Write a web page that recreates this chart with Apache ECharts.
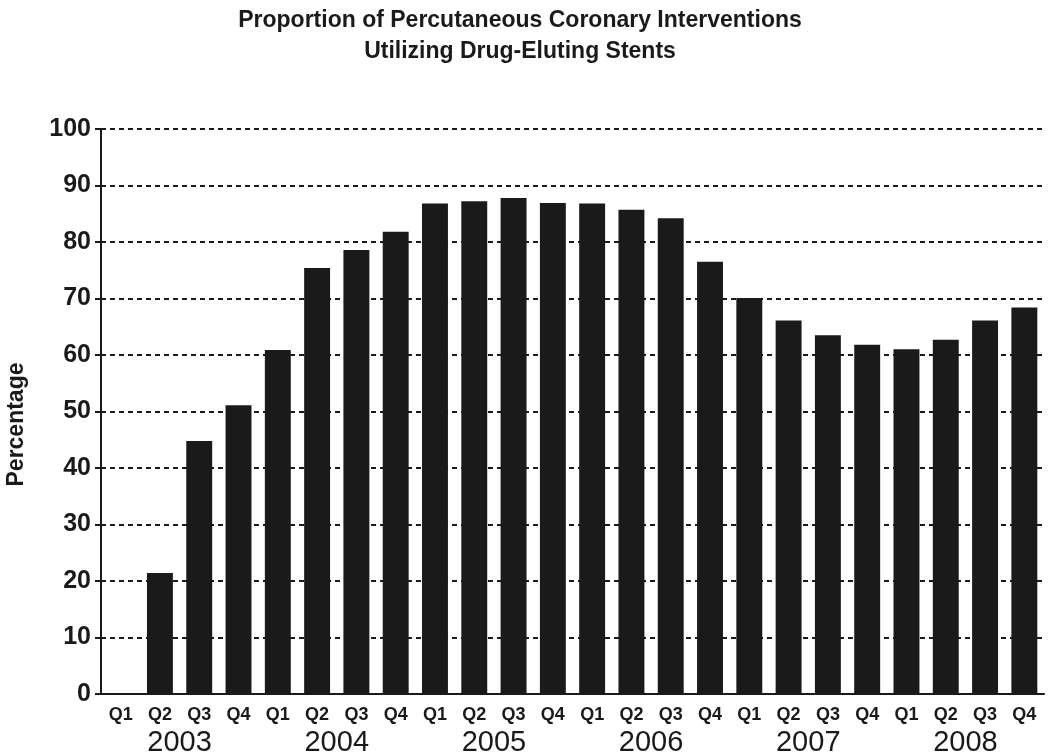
<!DOCTYPE html>
<html>
<head>
<meta charset="utf-8">
<script src="https://cdn.jsdelivr.net/npm/echarts@6/dist/echarts.min.js"></script>
<style>
  html, body { margin: 0; padding: 0; background: #fff; }
  #chart { width: 1050px; height: 753px; }
</style>
</head>
<body>
<div id="chart"></div>
<script>
// quarters and the year groups under them
const quarters = ['Q1', 'Q2', 'Q3', 'Q4', 'Q1', 'Q2', 'Q3', 'Q4', 'Q1', 'Q2', 'Q3', 'Q4',
                  'Q1', 'Q2', 'Q3', 'Q4', 'Q1', 'Q2', 'Q3', 'Q4', 'Q1', 'Q2', 'Q3', 'Q4'];
const years = ['2003', '2004', '2005', '2006', '2007', '2008'];
// percentage of PCIs using drug-eluting stents
const desPercent = [0, 21.4, 44.8, 51.1, 60.9, 75.4, 78.6, 81.8, 86.8, 87.2, 87.8, 86.9,
                    86.8, 85.7, 84.2, 76.5, 70.1, 66.1, 63.5, 61.8, 61.0, 62.7, 66.1, 68.4];
const yTicks = [0, 10, 20, 30, 40, 50, 60, 70, 80, 90, 100];

const font = 'Liberation Sans, Arial, Helvetica, sans-serif';

const chart = echarts.init(document.getElementById('chart'));
chart.setOption({
    animation: false,
    backgroundColor: '#fff',
    title: {
        text: 'Proportion of Percutaneous Coronary Interventions\nUtilizing Drug-Eluting Stents',
        left: 515,
        textAlign: 'center',
        top: 0,
        textStyle: { fontFamily: font, fontSize: 23, fontWeight: 'bold', color: '#1a1a1a', lineHeight: 31 }
    },
    grid: { left: 101, right: 6, top: 129, bottom: 59, outerBoundsMode: 'none' },
    xAxis: [{
        type: 'category',
        data: quarters,
        axisLine: { lineStyle: { color: '#1a1a1a', width: 2 } },
        axisTick: { alignWithLabel: true, length: 6, lineStyle: { color: '#1a1a1a', width: 2 } },
        axisLabel: { margin: 12, color: '#1a1a1a', fontFamily: font, fontSize: 18, fontWeight: 'bold', interval: 0 }
    }, {
        type: 'category',
        data: years,
        position: 'bottom',
        axisLine: { show: false },
        axisTick: { show: false },
        axisLabel: { margin: 34, color: '#1a1a1a', fontFamily: font, fontSize: 29, interval: 0 }
    }],
    yAxis: {
        type: 'value',
        min: yTicks[0],
        max: yTicks[yTicks.length - 1],
        interval: 10,
        name: 'Percentage',
        nameLocation: 'middle',
        nameGap: 73,
        nameTextStyle: { fontFamily: font, fontSize: 23, fontWeight: 'bold', color: '#1a1a1a', padding: [0, 26, 0, 0] },
        axisLine: { show: true, lineStyle: { color: '#1a1a1a', width: 2 } },
        axisTick: { show: true, length: 6, lineStyle: { color: '#1a1a1a', width: 2 } },
        axisLabel: { margin: 10, color: '#1a1a1a', fontFamily: font, fontSize: 25, fontWeight: 'bold' },
        splitLine: { lineStyle: { color: '#1a1a1a', width: 2, type: [5, 4] } }
    },
    series: [{
        type: 'bar',
        xAxisIndex: 0,
        data: desPercent,
        barCategoryGap: '34%',
        itemStyle: { color: '#1a1a1a' }
    }]
});
</script>
</body>
</html>
